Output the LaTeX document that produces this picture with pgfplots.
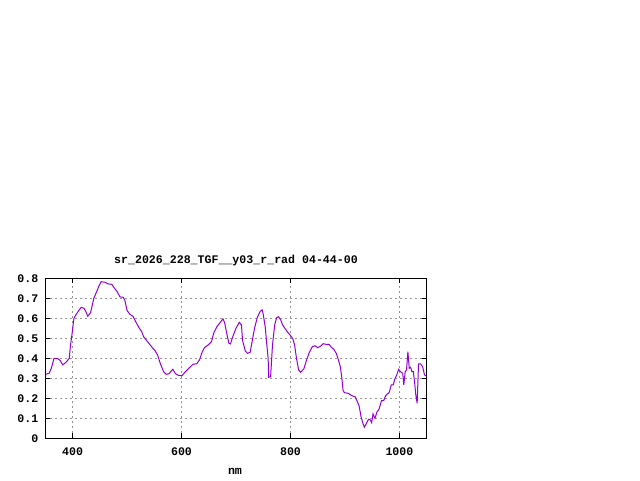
\documentclass[border=0pt]{standalone}
\usepackage{pgfplots}
\pgfplotsset{compat=1.18}
\usepackage{fontspec}
\setmainfont{Liberation Mono}
\definecolor{dviolet}{RGB}{148,0,211}
\definecolor{gridgray}{RGB}{150,150,150}
\begin{document}
\fontsize{11.6pt}{13pt}\selectfont\bfseries
\begin{tikzpicture}[x=1pt,y=1pt]
\useasboundingbox (0,0) rectangle (640,480);
\begin{axis}[
  at={(45.3pt,41.7pt)}, anchor=south west,
  width=381.4pt, height=160pt, scale only axis,
  xmin=350, xmax=1050, ymin=0, ymax=0.8,
  xtick={400,600,800,1000},
  ytick={0,0.1,0.2,0.3,0.4,0.5,0.6,0.7,0.8},
  /pgf/number format/assume math mode=true,
  /pgf/number format/1000 sep={},
  yticklabel style={/pgf/number format/fixed,/pgf/number format/precision=1, xshift=-3pt},
  xticklabel style={yshift=-5pt},
  scaled y ticks=false,
  tick align=inside, major tick length=5pt,
  tick style={black, line width=0.8pt},
  axis line style={black, line width=1pt},
  grid=major,
  major grid style={gridgray, dash pattern=on 2pt off 3pt, line width=0.9pt},
  title={sr\_2026\_228\_TGF\_\_y03\_r\_rad 04-44-00},
  title style={at={(0.5,1)}, anchor=center, yshift=12pt, font=\fontsize{11.6pt}{13pt}\selectfont\bfseries},
  xlabel={nm},
  xlabel style={at={(0.5,0)}, anchor=center, yshift=-33pt, xshift=-1pt},
  ticklabel style={font=\fontsize{11.6pt}{13pt}\selectfont\bfseries},
]
\addplot[dviolet, line width=1pt, mark=none] coordinates {
(351,0.32) (357,0.325) (361,0.35) (366,0.40) (373,0.398) (377,0.39) (382,0.367) (388,0.38) (394,0.40) (396,0.46) (399,0.52) (402.5,0.60) (406,0.617) (411,0.637) (416,0.655) (421,0.65) (424.5,0.633) (428,0.61) (433,0.628) (437,0.675) (439,0.70) (443,0.725) (448,0.758) (452.5,0.783) (460,0.78) (465,0.772) (472,0.77) (477,0.75) (482,0.733) (487,0.707) (493,0.705) (496,0.69) (500,0.64) (505,0.62) (511,0.61) (516,0.583) (522,0.553) (527,0.533) (530.5,0.508) (536.5,0.487) (541.5,0.47) (547.5,0.45) (551,0.44) (556,0.417) (561,0.375) (567,0.333) (572,0.32) (577,0.323) (584,0.345) (589,0.323) (594,0.315) (601,0.313) (606,0.33) (613.5,0.35) (621,0.37) (628,0.373) (633,0.392) (637,0.425) (642,0.453) (649,0.467) (655,0.483) (659,0.525) (665,0.558) (672,0.583) (676,0.597) (679,0.58) (683,0.525) (687,0.475) (690,0.472) (694,0.508) (700,0.55) (706,0.58) (710,0.567) (712,0.49) (717,0.437) (721,0.425) (726,0.43) (729.5,0.483) (734,0.55) (739,0.603) (744,0.633) (748,0.642) (750,0.62) (754,0.55) (756,0.483) (759,0.40) (760,0.305) (763.5,0.308) (765,0.375) (767,0.467) (771,0.567) (774.5,0.603) (778,0.608) (782,0.592) (785.5,0.567) (790.5,0.547) (795,0.53) (799,0.517) (804,0.50) (807.5,0.467) (811,0.40) (815,0.342) (818.5,0.33) (824.5,0.347) (829,0.387) (834,0.425) (840,0.458) (845,0.463) (850,0.453) (855,0.46) (860,0.473) (865,0.47) (871,0.47) (875,0.455) (879.5,0.445) (884,0.425) (888,0.392) (891.5,0.358) (894,0.308) (896.5,0.24) (899,0.228) (906,0.225) (912.5,0.213) (918.5,0.208) (922,0.188) (926,0.162) (929.5,0.108) (933,0.075) (935.5,0.055) (939,0.072) (943,0.095) (946.5,0.092) (949,0.078) (951.5,0.122) (955,0.10) (959,0.133) (962.5,0.145) (967,0.188) (971,0.188) (974.5,0.212) (977,0.22) (981,0.228) (985,0.267) (988.6,0.267) (991,0.292) (995,0.317) (998.5,0.345) (1002,0.333) (1006,0.325) (1008,0.267) (1010.5,0.333) (1013,0.342) (1015.5,0.433) (1018,0.35) (1020.5,0.355) (1023,0.333) (1025.5,0.333) (1028,0.275) (1030,0.217) (1032.5,0.175) (1035,0.372) (1039,0.372) (1042.5,0.358) (1046,0.317) (1050,0.31)
};
\end{axis}
\end{tikzpicture}
\end{document}
